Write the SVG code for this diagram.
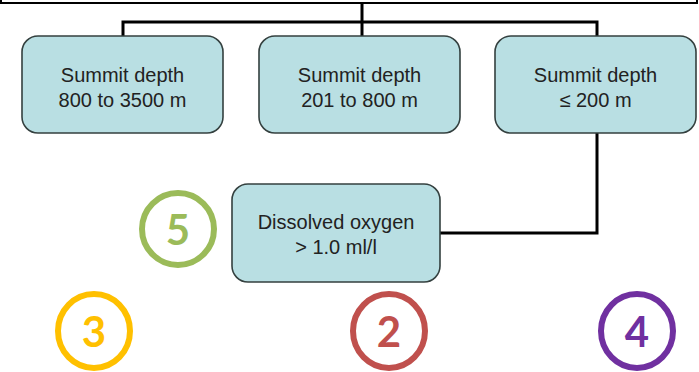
<svg xmlns="http://www.w3.org/2000/svg" width="699" height="372" viewBox="0 0 699 372">
  <style>
    .box { fill: #B9DFE3; stroke: #34403f; stroke-width: 1.6; }
    .lbl { font-family: "Liberation Sans", Arial, sans-serif; font-size: 20px; fill: #222; text-anchor: middle; }
    .wire { fill: none; stroke: #000; stroke-width: 3; }
    .ring { fill: #fff; stroke-width: 6; }
    .num { font-family: Lato, "Open Sans", sans-serif; font-weight: bold; font-size: 42px; text-anchor: middle; dominant-baseline: central; }
  </style>

  <!-- outer frame edge across the top -->
  <path d="M1,-5 V3 H697 V-5" fill="none" stroke="#000" stroke-width="2"/>

  <g id="connectors">
    <path class="wire" d="M362,3 V22"/>
    <path class="wire" d="M123,36 V22 H597 V36"/>
    <path class="wire" d="M362,22 V36"/>
    <path class="wire" d="M597,133 V233 H440"/>
  </g>

  <g id="depth-deep">
    <rect class="box" x="22" y="36" width="201" height="97" rx="16"/>
    <text class="lbl" x="122.5" y="82">Summit depth</text>
    <text class="lbl" x="122.5" y="107">800 to 3500 m</text>
  </g>

  <g id="depth-mid">
    <rect class="box" x="259" y="36" width="201" height="97" rx="16"/>
    <text class="lbl" x="359.5" y="82">Summit depth</text>
    <text class="lbl" x="359.5" y="107">201 to 800 m</text>
  </g>

  <g id="depth-shallow">
    <rect class="box" x="495" y="36" width="201" height="97" rx="16"/>
    <text class="lbl" x="595.5" y="82">Summit depth</text>
    <text class="lbl" x="595.5" y="107">≤ 200 m</text>
  </g>

  <g id="oxygen">
    <rect class="box" x="232" y="184" width="208" height="98" rx="16"/>
    <text class="lbl" x="336" y="229">Dissolved oxygen</text>
    <text class="lbl" x="336" y="254">&gt; 1.0 ml/l</text>
  </g>

  <g id="badge-5">
    <circle class="ring" cx="178" cy="229" r="36" stroke="#9BBB59"/>
    <text class="num" x="178" y="229" fill="#9BBB59">5</text>
  </g>

  <g id="badge-3">
    <ellipse class="ring" cx="94" cy="331" rx="36" ry="37" stroke="#FFC000"/>
    <text class="num" x="94" y="331" fill="#FFC000">3</text>
  </g>

  <g id="badge-2">
    <ellipse class="ring" cx="389" cy="331" rx="36" ry="37" stroke="#C0504D"/>
    <text class="num" x="389" y="331" fill="#C0504D">2</text>
  </g>

  <g id="badge-4">
    <ellipse class="ring" cx="637" cy="331" rx="36" ry="37" stroke="#7030A0"/>
    <text class="num" x="637" y="331" fill="#7030A0">4</text>
  </g>
</svg>
